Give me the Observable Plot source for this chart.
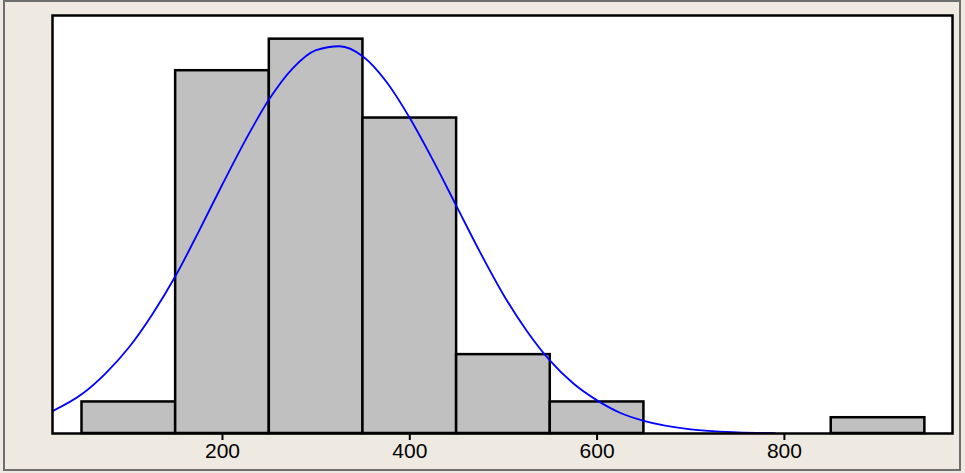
<!DOCTYPE html>
<html>
<head>
<meta charset="utf-8">
<script src="https://cdn.jsdelivr.net/npm/d3@7"></script>
<script src="https://cdn.jsdelivr.net/npm/@observablehq/plot@0.6"></script>
<style>
  html, body { margin: 0; padding: 0; background: #EEEAE1; overflow: hidden; }
  #wrap { position: relative; width: 965px; height: 473px; }
  #border { position: absolute; left: 3px; top: 0px; width: 958px; height: 471px;
            border: 2px solid #6e6e6e; box-sizing: border-box; pointer-events: none; }
</style>
</head>
<body>
<div id="wrap"><div id="border"></div></div>
<script>
// Histogram bins (lower edge, upper edge) and counts
const binLower = [50, 150, 250, 350, 450, 550, 850];
const binUpper = [150, 250, 350, 450, 550, 650, 950];
const counts   = [2, 23, 25, 20, 5, 2, 1];

// Fitted normal curve (x value, height in counts)
const curveX = [18.5, 50, 75, 100, 125, 150, 175, 200, 225, 250, 275, 300, 325, 350, 375, 400, 425, 450, 475, 500, 525, 550, 575, 600, 625, 650, 700, 750, 790];
const curveY = [1.42, 2.5, 3.8, 5.45, 7.55, 10.0, 12.85, 15.8, 18.65, 21.2, 23.15, 24.3, 24.55, 23.9, 22.3, 20.0, 17.3, 14.4, 11.5, 8.8, 6.5, 4.6, 3.15, 2.1, 1.3, 0.8, 0.26, 0.07, 0.02];

const xTicks = [200, 400, 600, 800];

const bars = binLower.map((lo, i) => ({x1: lo, x2: binUpper[i], count: counts[i]}));
const curve = curveX.map((x, i) => ({x, y: curveY[i]}));

const chart = Plot.plot({
  width: 965,
  height: 473,
  marginLeft: 52,
  marginRight: 13,
  marginTop: 15,
  marginBottom: 40,
  style: {background: "#EEEAE1", fontSize: "21px", fontFamily: "'Liberation Sans', Arial, sans-serif", color: "black"},
  x: {domain: [18.5, 979.5], axis: null},
  y: {domain: [0, 26.5], axis: null},
  marks: [
    Plot.frame({fill: "white", stroke: null}),
    Plot.rectY(bars, {x1: "x1", x2: "x2", y: "count", fill: "#C0C0C0", stroke: "black", strokeWidth: 2.5, inset: 0}),
    Plot.line(curve, {x: "x", y: "y", stroke: "#0000FF", strokeWidth: 1.8, curve: "monotone-x"}),
    Plot.frame({stroke: "black", strokeWidth: 2.5}),
    Plot.axisX({ticks: xTicks, tickSize: 7, tickPadding: 3, strokeWidth: 2, stroke: "black", fill: "black", tickFormat: d => String(d)})
  ]
});
document.getElementById("wrap").prepend(chart);
</script>
</body>
</html>
